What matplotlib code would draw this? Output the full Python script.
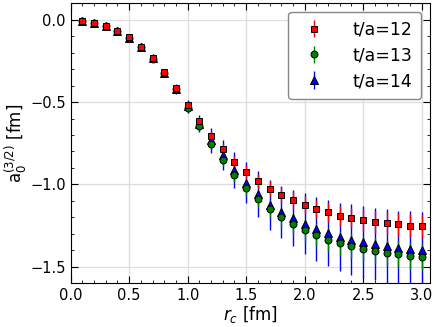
import numpy as np
import matplotlib
matplotlib.use("Agg")
import matplotlib.pyplot as plt

# r_c values (fm)
rc = [0.1, 0.2, 0.3, 0.4, 0.5, 0.6, 0.7, 0.8, 0.9, 1.0,
      1.1, 1.2, 1.3, 1.4, 1.5, 1.6, 1.7, 1.8, 1.9, 2.0,
      2.1, 2.2, 2.3, 2.4, 2.5, 2.6, 2.7, 2.8, 2.9, 3.0]

# t/a = 12
a12 = [-0.006, -0.020, -0.040, -0.068, -0.107, -0.163, -0.232, -0.318, -0.414, -0.515,
       -0.614, -0.705, -0.787, -0.862, -0.922, -0.977, -1.026, -1.065, -1.095, -1.127,
       -1.150, -1.170, -1.190, -1.204, -1.216, -1.227, -1.233, -1.243, -1.250, -1.255]
e12 = [0.002, 0.003, 0.004, 0.005, 0.007, 0.009, 0.011, 0.013, 0.016, 0.020,
       0.024, 0.028, 0.032, 0.036, 0.040, 0.043, 0.046, 0.049, 0.052, 0.055,
       0.057, 0.059, 0.061, 0.063, 0.065, 0.066, 0.067, 0.068, 0.069, 0.070]

# t/a = 13
a13 = [-0.006, -0.020, -0.041, -0.069, -0.109, -0.166, -0.236, -0.324, -0.422, -0.537,
       -0.647, -0.755, -0.852, -0.943, -1.023, -1.088, -1.148, -1.200, -1.242, -1.278,
       -1.308, -1.335, -1.357, -1.376, -1.391, -1.404, -1.415, -1.423, -1.434, -1.440]
e13 = [0.002, 0.003, 0.005, 0.006, 0.008, 0.010, 0.013, 0.015, 0.019, 0.023,
       0.028, 0.032, 0.037, 0.041, 0.046, 0.050, 0.053, 0.056, 0.060, 0.063,
       0.066, 0.068, 0.070, 0.072, 0.074, 0.076, 0.077, 0.078, 0.079, 0.080]

# t/a = 14
a14 = [-0.006, -0.020, -0.040, -0.068, -0.108, -0.164, -0.234, -0.321, -0.418, -0.525,
       -0.632, -0.731, -0.822, -0.912, -0.989, -1.059, -1.124, -1.168, -1.206, -1.238,
       -1.270, -1.295, -1.319, -1.335, -1.351, -1.363, -1.376, -1.385, -1.391, -1.400]
e14 = [0.003, 0.004, 0.006, 0.008, 0.010, 0.013, 0.017, 0.022, 0.030, 0.040,
       0.052, 0.076, 0.093, 0.110, 0.125, 0.140, 0.150, 0.160, 0.170, 0.185,
       0.195, 0.200, 0.205, 0.215, 0.220, 0.220, 0.225, 0.225, 0.230, 0.230]

labels = ['t/a=12', 't/a=13', 't/a=14']

plt.rcParams['font.family'] = 'DejaVu Sans'
fig = plt.figure(figsize=(4.36, 3.27), dpi=100)
ax = fig.add_axes([0.162, 0.134, 0.824, 0.856])

# draw t/a=14 first so that squares end up on top
h14 = ax.errorbar(rc, a14, yerr=e14, fmt='^', color='blue', ms=5.5, mec='black',
                  mew=0.7, elinewidth=1.0, capsize=0)
h13 = ax.errorbar(rc, a13, yerr=e13, fmt='o', color='green', ms=5, mec='black',
                  mew=0.7, elinewidth=1.0, capsize=0)
h12 = ax.errorbar(rc, a12, yerr=e12, fmt='s', color='red', ms=5, mec='black',
                  mew=0.7, elinewidth=1.0, capsize=0)

ax.set_xlim(0, 3.07)
ax.set_ylim(-1.6, 0.1)
ax.set_xticks([0.0, 0.5, 1.0, 1.5, 2.0, 2.5, 3.0])
ax.set_yticks([0.0, -0.5, -1.0, -1.5])
ax.set_xticks(np.arange(0, 3.05, 0.1), minor=True)
ax.set_yticks(np.arange(-1.6, 0.1, 0.1), minor=True)
ax.tick_params(which='both', direction='in', top=True, right=True, labelsize=10.5)
ax.tick_params(which='major', length=5)
ax.tick_params(which='minor', length=2.5)
ax.grid(True, which='major', color='#dddddd', lw=0.9)
ax.set_axisbelow(True)

ax.set_xlabel(r'$r_c$ [fm]', fontsize=12, labelpad=1)
ax.set_ylabel(r'a$_0^{(3/2)}$ [fm]', fontsize=12, labelpad=1)

leg = ax.legend([h12, h13, h14], labels, loc='upper right', fontsize=12.5,
                frameon=True, edgecolor='#888888', framealpha=1,
                handletextpad=1.2, borderpad=0.5, labelspacing=0.45)

fig.savefig('out.png', dpi=100)
